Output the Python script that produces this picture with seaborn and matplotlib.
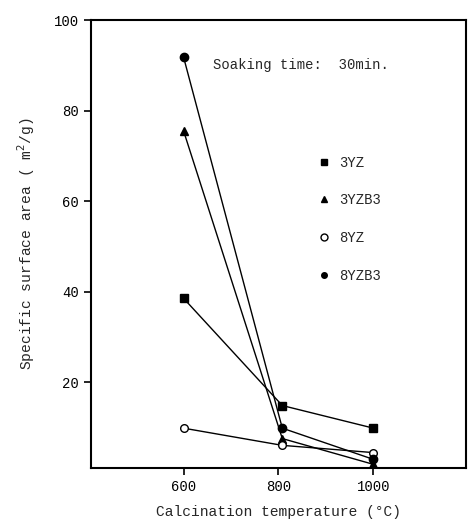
import matplotlib
matplotlib.use("Agg")
import matplotlib.pyplot as plt
from matplotlib.lines import Line2D
import seaborn as sns
import pandas as pd

sns.set_theme(style="ticks")
plt.rcParams['font.family'] = ['Liberation Mono', 'DejaVu Sans Mono']

temps = [600, 808, 1000]
series_names = ["3YZ", "3YZB3", "8YZ", "8YZB3"]
val_3YZ = [38.5, 14.8, 9.8]
val_3YZB3 = [75.5, 7.5, 1.8]
val_8YZ = [9.8, 6.0, 4.4]
val_8YZB3 = [91.8, 9.8, 2.9]
xticks = [600, 800, 1000]
yticks = [20, 40, 60, 80, 100]

values = {"3YZ": val_3YZ, "3YZB3": val_3YZB3, "8YZ": val_8YZ, "8YZB3": val_8YZB3}
styles = {
    "3YZ": dict(marker="s", mfc="black", ms=6),
    "3YZB3": dict(marker="^", mfc="black", ms=5.5),
    "8YZ": dict(marker="o", mfc="white", ms=5.5),
    "8YZB3": dict(marker="o", mfc="black", ms=6),
}

fig = plt.figure(figsize=(4.7, 5.24), dpi=100)
ax = fig.add_axes([0.1936, 0.1069, 0.7979, 0.8549])

for name in series_names:
    df = pd.DataFrame({"T": temps, "S": values[name]})
    st = styles[name]
    sns.lineplot(data=df, x="T", y="S", ax=ax, color="black", linewidth=1.0,
                 marker=st["marker"], markersize=st["ms"], markerfacecolor=st["mfc"],
                 markeredgecolor="black", markeredgewidth=1.0)

ax.set_xlim(405, 1195)
ax.set_ylim(1, 100)
ax.set_xticks(xticks)
ax.set_yticks(yticks)
ax.tick_params(axis="both", direction="out", length=5, width=1.2, labelsize=10, colors="black")
for sp in ax.spines.values():
    sp.set_linewidth(1.5)
    sp.set_color("black")
    sp.set_visible(True)

ax.set_xlabel("Calcination temperature (°C)", fontsize=10.5, labelpad=8)
ax.set_ylabel("Specific surface area ( m$^2$/g)", fontsize=10.5, labelpad=12)

ax.text(0.325, 0.9, "Soaking time:  30min.", transform=ax.transAxes, fontsize=10, va="center")

legend_styles = {
    "3YZ": dict(marker="s", mfc="black", ms=5),
    "3YZB3": dict(marker="^", mfc="black", ms=5),
    "8YZ": dict(marker="o", mfc="white", ms=5),
    "8YZB3": dict(marker="o", mfc="black", ms=4),
}
handles = [Line2D([], [], linestyle="none", color="black", marker=legend_styles[n]["marker"],
                  markerfacecolor=legend_styles[n]["mfc"], markeredgecolor="black",
                  markersize=legend_styles[n]["ms"]) for n in series_names]
ax.legend(handles, series_names, loc="upper left", bbox_to_anchor=(0.57, 0.725),
          frameon=False, fontsize=10, labelspacing=1.7, handletextpad=0.6, handlelength=1.0)

fig.savefig("out.png", dpi=100)
